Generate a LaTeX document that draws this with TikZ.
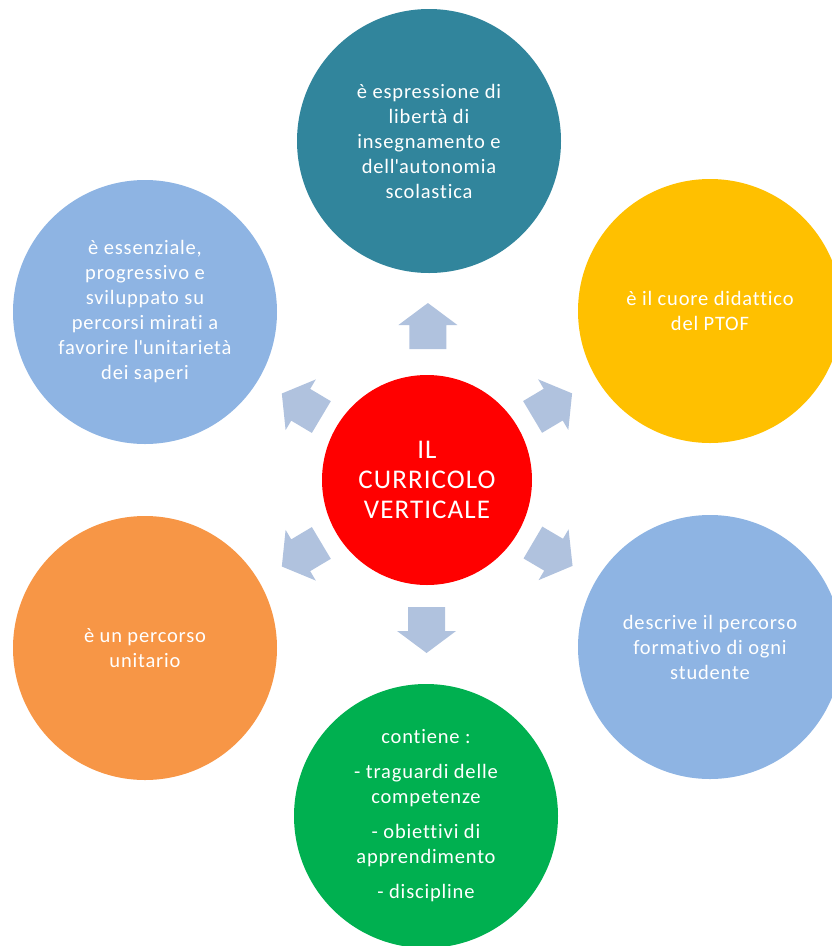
\documentclass[tikz,border=0pt]{standalone}
\usepackage{fontspec}
\setmainfont{Carlito}[LetterSpace=4,Ligatures=NoCommon]
\usetikzlibrary{calc}
\definecolor{cteal}{RGB}{49,133,156}
\definecolor{cblue}{RGB}{142,180,227}
\definecolor{cyellow}{RGB}{255,192,0}
\definecolor{corange}{RGB}{247,150,70}
\definecolor{cgreen}{RGB}{0,176,80}
\definecolor{cred}{RGB}{255,0,0}
\definecolor{carrow}{RGB}{176,194,222}
\tikzset{
  bubble/.style={circle, minimum size=264pt, inner sep=0pt, text=white, align=center,
    font=\fontsize{20.5}{25}\selectfont},
  hub/.style={circle, minimum size=210pt, inner sep=0pt, fill=cred, text=white, align=center,
    font=\fontsize{27}{30}\selectfont},
  blockarrow/.pic={\fill[carrow] (-23,-18.5) -- (1,-18.5) -- (1,-29.5) -- (23,0) -- (1,29.5) -- (1,18.5) -- (-23,18.5) -- cycle;}
}
\begin{document}
\begin{tikzpicture}[x=1pt,y=-1pt]
\useasboundingbox (0,0) rectangle (832,946);
\node[hub] (c) at (427,480) {IL\\CURRICOLO\\VERTICALE};
\node[bubble, fill=cteal] (t) at (429,141) {è espressione di\\libertà di\\insegnamento e\\dell\textquotesingle autonomia\\scolastica};
\node[bubble, fill=cyellow] (tr) at (710,311) {è il cuore didattico\\del PTOF};
\node[bubble, fill=cblue] (br) at (710,647) {descrive il percorso\\formativo di ogni\\studente};
\node[bubble, fill=cgreen] (b) at (426,816) {contiene :\\[10pt]- traguardi delle\\competenze\\[10pt]- obiettivi di\\apprendimento\\[10pt]- discipline};
\node[bubble, fill=corange] (bl) at (145,648) {è un percorso\\unitario};
\node[bubble, fill=cblue] (tl) at (145,312) {è essenziale,\\progressivo e\\sviluppato su\\percorsi mirati a\\favorire l\textquotesingle unitarietà\\dei saperi};
\path ($(c)!154pt!(t)$) pic[rotate=90] {blockarrow};
\path ($(c)!150pt!(b)$) pic[rotate=-90] {blockarrow};
\path ($(c)!146pt!(tr)$) pic[rotate=30.8] {blockarrow};
\path ($(c)!146pt!(br)$) pic[rotate=-30.5] {blockarrow};
\path ($(c)!146pt!(tl)$) pic[rotate=149.2] {blockarrow};
\path ($(c)!146pt!(bl)$) pic[rotate=-149.2] {blockarrow};
\end{tikzpicture}
\end{document}
